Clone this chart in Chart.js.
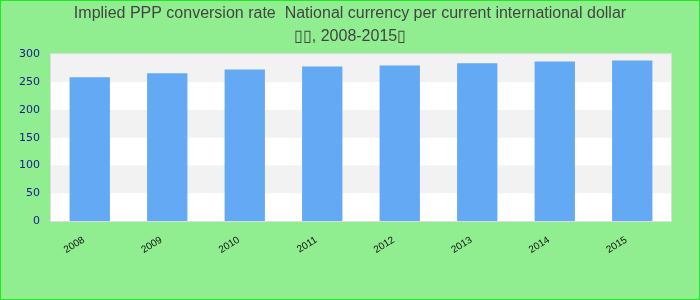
<!DOCTYPE html>
<html>
<head>
<meta charset="utf-8">
<script src="https://cdn.jsdelivr.net/npm/chart.js@4"></script>
<style>
  body { margin: 0; }
  #box { width: 700px; height: 300px; box-sizing: border-box; border: 1px solid rgb(30, 235, 30); background: #90ee90; }
</style>
</head>
<body>
<div id="box"><canvas id="myChart" width="698" height="298"></canvas></div>
<script>
var years = ["2008", "2009", "2010", "2011", "2012", "2013", "2014", "2015"];
var pppRate = [259, 266, 273, 278, 280, 284, 287, 289];
var titleLines = ["Implied PPP conversion rate  National currency per current international dollar", "\u25AF\u25AF, 2008-2015\u25AF"];

var barColor = '#63a9f4';

// alternating bands behind the bars, and a thin box round the plot
var bands = {
    id: 'bands',
    beforeDatasetsDraw: function (chart) {
        var ctx = chart.ctx, a = chart.chartArea, y = chart.scales.y;
        ctx.save();
        ctx.fillStyle = '#ffffff';
        ctx.fillRect(a.left, a.top, a.right - a.left, a.bottom - a.top);
        var t = y.ticks;
        for (var i = 0; i < t.length - 1; i++) {
            if (i % 2 == 1) {
                var y0 = y.getPixelForValue(t[i].value);
                var y1 = y.getPixelForValue(t[i + 1].value);
                ctx.fillStyle = '#f2f2f2';
                ctx.fillRect(a.left, y1, a.right - a.left, y0 - y1);
            }
        }
        ctx.restore();
    },
    afterDatasetsDraw: function (chart) {
        var ctx = chart.ctx, a = chart.chartArea;
        ctx.save();
        ctx.strokeStyle = '#dcdcdc';
        ctx.lineWidth = 1;
        ctx.strokeRect(Math.round(a.left) - 0.5, Math.round(a.top) - 0.5, Math.round(a.right - a.left) + 1, Math.round(a.bottom - a.top) + 1);
        ctx.restore();
    }
};

var ctx = document.getElementById('myChart').getContext('2d');
var chart = new Chart(ctx, {
    type: 'bar',
    data: {
        labels: years,
        datasets: [{
            data: pppRate,
            backgroundColor: barColor,
            borderWidth: 0,
            barPercentage: 0.52,
            categoryPercentage: 1
        }]
    },
    options: {
        responsive: false,
        animation: false,
        layout: { padding: { left: 0, right: 0, top: 1, bottom: 30 } },
        plugins: {
            legend: { display: false },
            tooltip: { enabled: false },
            title: {
                display: true,
                text: titleLines,
                color: '#444444',
                font: { family: 'Liberation Sans', size: 16, weight: 'normal', lineHeight: 1.45 },
                padding: { top: 0, bottom: 6 }
            }
        },
        scales: {
            x: {
                grid: { display: false, drawTicks: false },
                border: { display: false },
                ticks: {
                    color: '#111111',
                    font: { family: 'Liberation Sans', size: 10 },
                    minRotation: 32,
                    maxRotation: 32,
                    padding: 13,
                    labelOffset: -6
                }
            },
            y: {
                min: 0,
                max: 300,
                grid: { display: false, drawTicks: false },
                border: { display: false },
                afterFit: function (s) { s.width = 50; },
                ticks: {
                    stepSize: 50,
                    color: '#1a1a8c',
                    font: { family: 'DejaVu Sans', size: 11 },
                    padding: 11
                }
            },
            // empty right margin so the title stays centred on the page
            yRight: {
                position: 'right',
                display: true,
                grid: { display: false, drawTicks: false },
                border: { display: false },
                ticks: { display: false },
                afterFit: function (s) { s.width = 28; }
            }
        }
    },
    plugins: [bands]
});
</script>
</body>
</html>
